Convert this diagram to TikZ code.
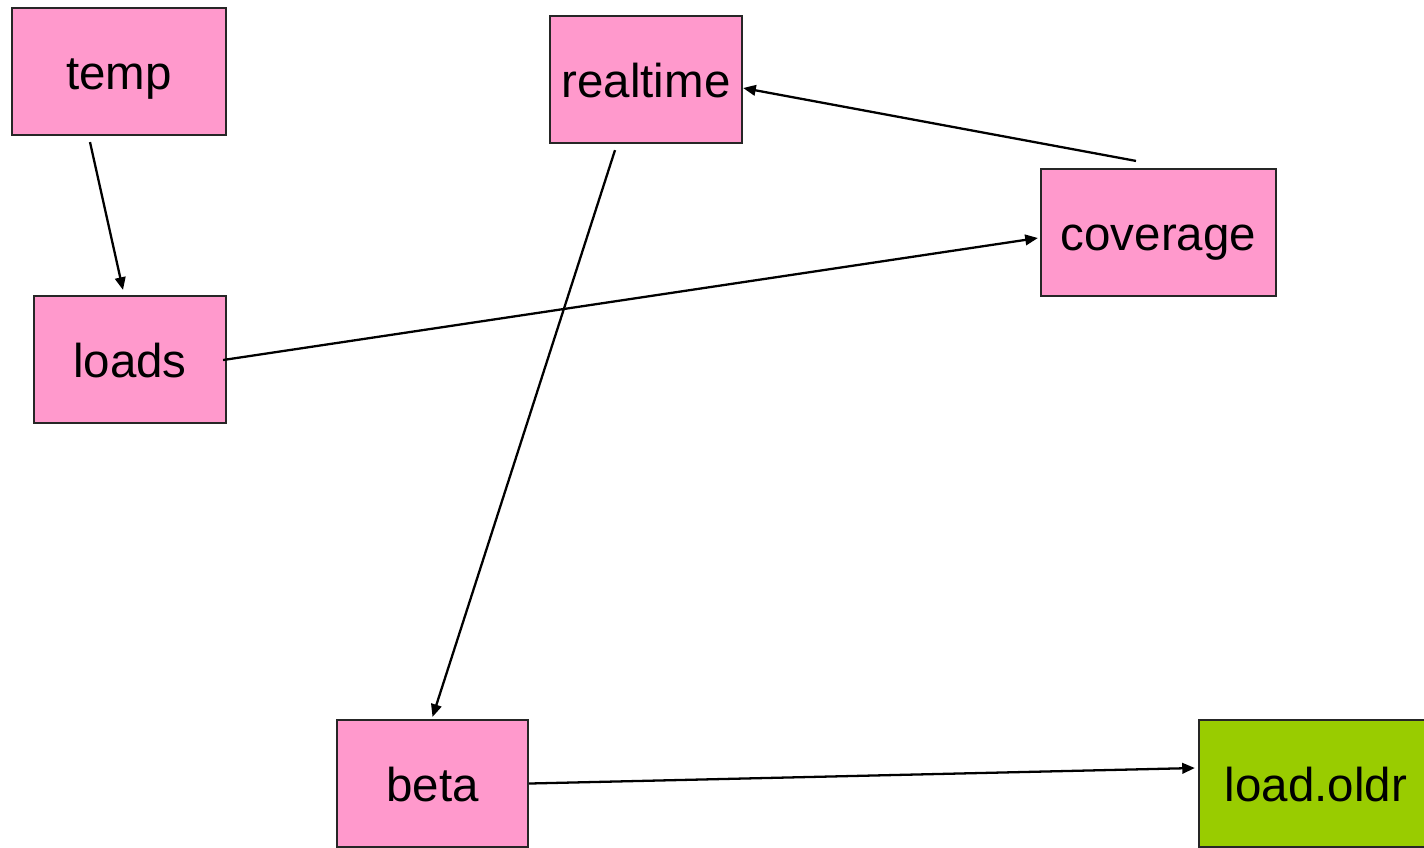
\documentclass[tikz,border=0pt]{standalone}
\usepackage{fontspec}
\setmainfont{Liberation Sans}
\usetikzlibrary{arrows.meta}
\definecolor{boxpink}{HTML}{FF99CC}
\definecolor{boxgreen}{HTML}{99CC00}
\begin{document}
\begin{tikzpicture}[x=0.01cm,y=-0.01cm,
  box/.style={draw=black!85,line width=0.6pt,fill=boxpink,inner sep=0pt,
    minimum height=1.27cm,text height=1em,text depth=0pt,
    font=\fontsize{13.5}{16}\selectfont},
  arr/.style={-{Triangle[length=3.6pt,width=3pt]},line width=0.65pt}]
% Page frame
\clip (0,0) rectangle (1424,847);

% Boxes
\node[box,minimum width=2.14cm] (temp) at (119,71.5) {temp};
\node[box,minimum width=1.92cm] (realtime) at (646,79.5) {realtime};
\node[box,minimum width=2.35cm] (coverage) at (1158.5,232.5) {coverage};
\node[box,minimum width=1.92cm] (loads) at (130,359.5) {loads};
\node[box,minimum width=1.91cm] (beta) at (432.5,783.5) {beta};
\node[box,minimum width=2.34cm,fill=boxgreen] (loadoldr) at (1316,783.5) {load.oldr};

% Arrows
\draw[arr] ([shift={(-29,6)}]temp.south) -- ([shift={(-7,-5)}]loads.north);
\draw[arr] ([shift={(-31,6)}]realtime.south) -- ([shift={(0,-2)}]beta.north);
\draw[arr] ([shift={(-22.5,-7)}]coverage.north) -- ([shift={(0,8.5)}]realtime.east);
\draw[arr] ([shift={(-4,0.5)}]loads.east) -- ([shift={(-2,5.5)}]coverage.west);
\draw[arr] (beta.east) -- ([shift={(-3,-15.5)}]loadoldr.west);
\end{tikzpicture}
\end{document}
